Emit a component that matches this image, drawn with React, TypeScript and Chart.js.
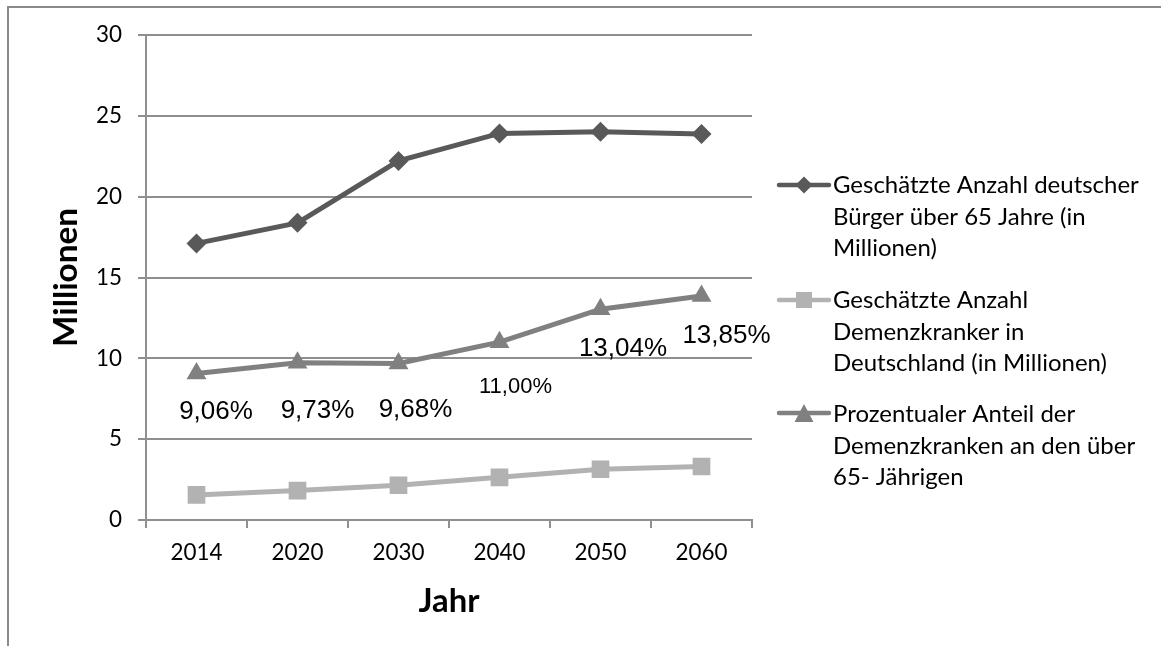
import React, { useEffect, useRef } from 'react';
import { Chart, registerables } from 'chart.js';

Chart.register(...registerables);

// ---- data ----
const years = ['2014', '2020', '2030', '2040', '2050', '2060'];
const seniors = [17.11, 18.38, 22.21, 23.91, 24.02, 23.87];
const dementia = [1.55, 1.82, 2.15, 2.64, 3.14, 3.31];
const sharePct = [9.06, 9.73, 9.68, 11.0, 13.04, 13.85];
const shareLabels = ['9,06%', '9,73%', '9,68%', '11,00%', '13,04%', '13,85%'];
const yTicks = [0, 5, 10, 15, 20, 25, 30];
const legendSeniors = ['Geschätzte Anzahl deutscher', 'Bürger über 65 Jahre (in', 'Millionen)'];
const legendDementia = ['Geschätzte Anzahl', 'Demenzkranker in', 'Deutschland (in Millionen)'];
const legendShare = ['Prozentualer Anteil der', 'Demenzkranken an den über', '65- Jährigen'];

// ---- styling ----
const FONT = '"Lato", "Open Sans", sans-serif';
const LABEL_FONT = '"Liberation Sans", Arial, sans-serif';
const GRID = '#8f8f8f';
const labelOffsets = [[19.5, 38], [20, 48], [17, 46], [16, 45], [22.5, 40], [25, 40]];
const labelFontSizes = [26, 26, 26, 22, 26, 26];

function fitFont(text: string, weight: string, family: string, target: number) {
  const c = document.createElement('canvas').getContext('2d')!;
  c.font = `${weight} 100px ${family}`;
  return (100 * target) / c.measureText(text).width;
}

const shareLabelPlugin = {
  id: 'shareLabels',
  afterDatasetsDraw(chart: any) {
    const meta = chart.getDatasetMeta(2);
    const ctx = chart.ctx;
    ctx.save();
    ctx.fillStyle = '#000';
    ctx.textAlign = 'center';
    ctx.textBaseline = 'middle';
    meta.data.forEach((pt: any, i: number) => {
      ctx.font = `${labelFontSizes[i]}px ${LABEL_FONT}`;
      const [dx, dy] = labelOffsets[i];
      ctx.fillText(shareLabels[i], pt.x + dx, pt.y + dy);
    });
    ctx.restore();
  },
};

function drawMarker(ctx: CanvasRenderingContext2D, style: string, x: number, y: number, color: string) {
  ctx.fillStyle = color;
  ctx.beginPath();
  if (style === 'rectRot') {
    const r = 8.5;
    ctx.moveTo(x - r, y);
    ctx.lineTo(x, y - r);
    ctx.lineTo(x + r, y);
    ctx.lineTo(x, y + r);
  } else if (style === 'rect') {
    const h = 8;
    ctx.rect(x - h, y - h, 2 * h, 2 * h);
  } else {
    const w = 9.5, h = 9;
    ctx.moveTo(x, y - h);
    ctx.lineTo(x + w, y + h);
    ctx.lineTo(x - w, y + h);
  }
  ctx.closePath();
  ctx.fill();
}

const sideLegendPlugin = {
  id: 'sideLegend',
  afterDraw(chart: any) {
    const ctx: CanvasRenderingContext2D = chart.ctx;
    const blocks = [legendSeniors, legendDementia, legendShare];
    const markerY = [185, 300, 413];
    const firstBaseline = [193, 308, 422];
    const lineGap = 31.7;
    const fs = fitFont('Deutschland (in Millionen)', 'normal', FONT, 274);
    chart.data.datasets.forEach((ds: any, i: number) => {
      const y = markerY[i];
      ctx.save();
      ctx.strokeStyle = ds.borderColor;
      ctx.lineWidth = 4.5;
      ctx.lineCap = 'round';
      ctx.beginPath();
      ctx.moveTo(779, y);
      ctx.lineTo(829, y);
      ctx.stroke();
      drawMarker(ctx, ds.pointStyle, 804, y, ds.borderColor);
      ctx.fillStyle = '#000';
      ctx.font = `${fs}px ${FONT}`;
      ctx.textAlign = 'left';
      ctx.textBaseline = 'alphabetic';
      blocks[i].forEach((line, k) => {
        ctx.fillText(line, 833, firstBaseline[i] + k * lineGap);
      });
      ctx.restore();
    });
  },
};

export default function App() {
  const ref = useRef<HTMLCanvasElement>(null);

  useEffect(() => {
    const canvas = ref.current!;
    const tickSize = fitFont('2014', 'normal', FONT, 52);
    const yTitleSize = fitFont('Millionen', 'bold', FONT, 139);
    const xTitleSize = fitFont('Jahr', 'bold', FONT, 61);

    const chart = new Chart(canvas, {
      type: 'line',
      data: {
        labels: years,
        datasets: [
          {
            label: legendSeniors.join(' '),
            data: seniors,
            borderColor: '#595959',
            backgroundColor: '#595959',
            borderWidth: 5,
            pointStyle: 'rectRot',
            pointRadius: 10,
            pointBorderWidth: 0,
            tension: 0,
          },
          {
            label: legendDementia.join(' '),
            data: dementia,
            borderColor: '#b2b2b2',
            backgroundColor: '#b2b2b2',
            borderWidth: 5,
            pointStyle: 'rect',
            pointRadius: 12.5,
            pointBorderWidth: 0,
            tension: 0,
          },
          {
            label: legendShare.join(' '),
            data: sharePct,
            borderColor: '#808080',
            backgroundColor: '#808080',
            borderWidth: 5,
            pointStyle: 'triangle',
            pointRadius: 11.5,
            pointBorderWidth: 0,
            tension: 0,
          },
        ],
      },
      options: {
        responsive: false,
        animation: false,
        layout: { padding: { left: 20, top: 35, right: 409, bottom: 21 } },
        plugins: {
          legend: { display: false },
          tooltip: { enabled: false },
        },
        scales: {
          x: {
            type: 'category',
            offset: true,
            grid: {
              display: true,
              offset: true,
              drawOnChartArea: false,
              drawTicks: true,
              tickLength: 8,
              color: GRID,
              lineWidth: 2,
            },
            border: { display: true, color: GRID, width: 2 },
            ticks: {
              color: '#000',
              font: { family: FONT, size: tickSize },
              padding: 11,
              maxRotation: 0,
              autoSkip: false,
            },
            title: {
              display: true,
              text: 'Jahr',
              color: '#000',
              font: { family: FONT, size: xTitleSize, weight: 'bold' },
              padding: { top: 0, bottom: 4 },
            },
            afterFit: (s: any) => {
              s.height = 105;
            },
          },
          y: {
            min: 0,
            max: 30,
            afterBuildTicks: (s: any) => {
              s.ticks = yTicks.map((v) => ({ value: v }));
            },
            grid: { color: GRID, lineWidth: 2, tickLength: 8, drawTicks: true },
            border: { display: true, color: GRID, width: 2 },
            ticks: {
              color: '#000',
              font: { family: FONT, size: tickSize },
              padding: 16,
            },
            title: {
              display: true,
              text: 'Millionen',
              color: '#000',
              font: { family: FONT, size: yTitleSize, weight: 'bold' },
              padding: { top: 26, bottom: 0 },
            },
            afterFit: (s: any) => {
              s.width = 126;
            },
          },
        },
      } as any,
      plugins: [shareLabelPlugin, sideLegendPlugin],
    });
    return () => chart.destroy();
  }, []);

  return (
    <div
      style={{
        position: 'fixed',
        left: 0,
        top: 0,
        width: 1161,
        height: 646,
        overflow: 'hidden',
        background: '#fff',
      }}
    >
      <div
        style={{
          position: 'absolute',
          left: 7,
          top: 6,
          width: 1400,
          height: 900,
          borderTop: '2px solid #8a8a8a',
          borderLeft: '2px solid #8a8a8a',
        }}
      />
      <canvas
        ref={ref}
        width={1161}
        height={646}
        style={{ position: 'absolute', left: 0, top: 0, width: 1161, height: 646 }}
      />
    </div>
  );
}
